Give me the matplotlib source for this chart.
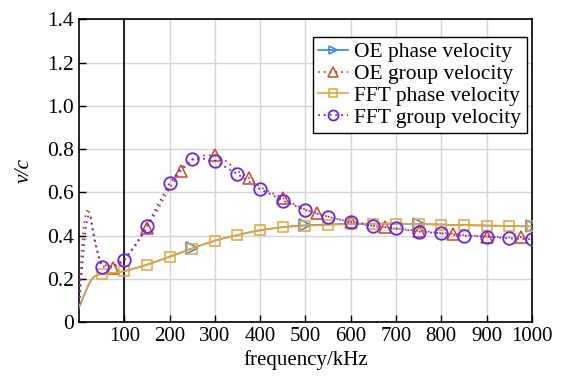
import matplotlib
matplotlib.use("Agg")
import matplotlib.pyplot as plt
import numpy as np

plt.rcParams['font.family'] = ['Liberation Serif', 'DejaVu Serif']
plt.rcParams['mathtext.fontset'] = 'stix'

# frequency grid (kHz)
freq = [0, 5, 10, 15, 20, 25, 30, 35, 40, 45, 50,
        75, 100, 125, 150, 175, 200, 225, 250, 275, 300,
        325, 350, 375, 400, 425, 450, 475, 500, 525, 550,
        575, 600, 625, 650, 675, 700, 725, 750, 775, 800,
        825, 850, 875, 900, 925, 950, 975, 1000]

oe_phase = [0.070, 0.092, 0.118, 0.144, 0.168, 0.188, 0.203, 0.212, 0.218, 0.221, 0.223,
            0.228, 0.236, 0.250, 0.266, 0.284, 0.303, 0.322, 0.342, 0.360, 0.377,
            0.391, 0.403, 0.415, 0.425, 0.433, 0.440, 0.445, 0.448, 0.450, 0.452,
            0.454, 0.455, 0.456, 0.456, 0.456, 0.456, 0.455, 0.455, 0.453, 0.452,
            0.450, 0.449, 0.448, 0.447, 0.446, 0.445, 0.444, 0.443]

fft_phase = [0.075, 0.095, 0.120, 0.145, 0.170, 0.190, 0.205, 0.213, 0.219, 0.222, 0.223,
             0.228, 0.236, 0.250, 0.266, 0.284, 0.303, 0.322, 0.341, 0.360, 0.377,
             0.391, 0.403, 0.415, 0.426, 0.433, 0.439, 0.443, 0.446, 0.448, 0.450,
             0.452, 0.454, 0.455, 0.455, 0.456, 0.456, 0.455, 0.454, 0.452, 0.451,
             0.450, 0.449, 0.448, 0.447, 0.446, 0.445, 0.444, 0.443]

oe_group = [0.060, 0.300, 0.440, 0.500, 0.525, 0.490, 0.425, 0.370, 0.330, 0.295, 0.272,
            0.250, 0.285, 0.355, 0.435, 0.525, 0.620, 0.700, 0.750, 0.770, 0.772,
            0.745, 0.700, 0.668, 0.625, 0.598, 0.575, 0.545, 0.520, 0.505, 0.488,
            0.475, 0.463, 0.452, 0.445, 0.439, 0.433, 0.428, 0.423, 0.418, 0.412,
            0.410, 0.404, 0.400, 0.396, 0.394, 0.392, 0.394, 0.390]

fft_group = [0.060, 0.200, 0.330, 0.440, 0.490, 0.495, 0.440, 0.380, 0.335, 0.290, 0.257,
             0.260, 0.290, 0.360, 0.445, 0.545, 0.642, 0.710, 0.753, 0.755, 0.747,
             0.715, 0.685, 0.650, 0.615, 0.590, 0.562, 0.540, 0.519, 0.502, 0.488,
             0.475, 0.465, 0.455, 0.445, 0.440, 0.434, 0.426, 0.419, 0.415, 0.411,
             0.405, 0.400, 0.398, 0.396, 0.392, 0.388, 0.386, 0.384]

# marker positions (kHz)
oe_phase_marks = [250, 500, 750, 1000]
oe_group_marks = [75, 150, 225, 300, 375, 450, 525, 600, 675, 750, 825, 900, 975]
fft_phase_marks = [50, 100, 150, 200, 250, 300, 350, 400, 450, 500, 550, 600, 650,
                   700, 750, 800, 850, 900, 950, 1000]
fft_group_marks = fft_phase_marks

labels = ["OE phase velocity", "OE group velocity", "FFT phase velocity", "FFT group velocity"]
xticks = [100, 200, 300, 400, 500, 600, 700, 800, 900, 1000]
yticks = [0, 0.2, 0.4, 0.6, 0.8, 1.0, 1.2, 1.4]
yticklabels = ["0", "0.2", "0.4", "0.6", "0.8", "1.0", "1.2", "1.4"]

c_blue = '#2f86e6'
c_red = '#d8431c'
c_orange = '#e8a534'
c_purple = '#6a24ee'

def idx(marks):
    return [freq.index(m) for m in marks]

fig = plt.figure(figsize=(5.64, 3.77), dpi=100)
ax = fig.add_axes([0.140, 0.145, 0.803, 0.804])

fs = 15
dot = (0, (1, 2.2))
ax.plot(freq, oe_phase, '-', color=c_blue, lw=1.2, marker='>', ms=8, mfc='none',
        mec=c_blue, mew=1.1, markevery=idx(oe_phase_marks), label=labels[0], zorder=3)
ax.plot(freq, oe_group, linestyle=dot, color=c_red, lw=1.3, marker='^', ms=9, mfc='none',
        mec=c_red, mew=1.1, markevery=idx(oe_group_marks), label=labels[1], zorder=3)
ax.plot(freq, fft_phase, '-', color=c_orange, lw=1.2, marker='s', ms=7, mfc='none',
        mec=c_orange, mew=1.1, markevery=idx(fft_phase_marks), label=labels[2], zorder=3)
ax.plot(freq, fft_group, linestyle=dot, color=c_purple, lw=1.3, marker='o', ms=9, mfc='none',
        mec=c_purple, mew=1.3, markevery=idx(fft_group_marks), label=labels[3], zorder=3)

ax.axvline(100, color='black', lw=1.2, zorder=2)

ax.set_xlim(0, 1000)
ax.set_ylim(0, 1.4)
ax.set_xticks(xticks)
ax.set_xticklabels([str(t) for t in xticks], fontsize=fs)
ax.set_yticks(yticks)
ax.set_yticklabels(yticklabels, fontsize=fs + 0.5)
ax.tick_params(direction='in', length=5, width=1, top=False, right=False)
ax.grid(True, color='#d4d4d4', lw=1.0)
ax.set_axisbelow(True)
for s in ax.spines.values():
    s.set_linewidth(1.2)

ax.set_xlabel("frequency/kHz", fontsize=fs, labelpad=3)
ax.set_ylabel("v/c", fontsize=fs + 0.5, style='italic', labelpad=10)

leg = ax.legend(loc='upper right', bbox_to_anchor=(0.989, 0.942), fontsize=15.5,
                frameon=True, fancybox=False, edgecolor='black', framealpha=1,
                handlelength=1.4, handletextpad=0.3, labelspacing=0.08,
                borderpad=0.25, borderaxespad=0, markerscale=0.8)
leg.get_frame().set_linewidth(1.0)

fig.savefig("out.png", dpi=100)
